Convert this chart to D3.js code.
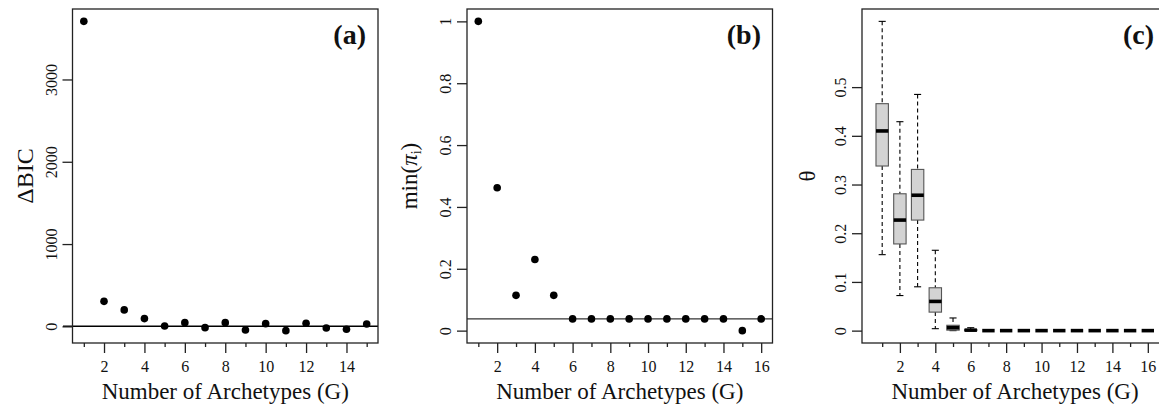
<!DOCTYPE html>
<html><head><meta charset="utf-8">
<script src="https://cdn.jsdelivr.net/npm/d3@7"></script>
<style>body{margin:0;background:#fff}svg{display:block}svg text{font-family:'Liberation Serif','Tinos','Times New Roman','DejaVu Serif',serif !important;fill:#111}</style>
</head><body>
<svg id="c" width="1159" height="411"></svg>
<script>
// ---- data ----
const gA = [1,2,3,4,5,6,7,8,9,10,11,12,13,14,15];
const deltaBIC = [3706,304,200,94,4,45,-16,45,-45,33,-52,37,-20,-36,28];
const gB = [1,2,3,4,5,6,7,8,9,10,11,12,13,14,15,16];
const minPi = [1,0.462,0.114,0.230,0.114,0.038,0.038,0.038,0.038,0.038,0.038,0.038,0.038,0.038,0,0.038];
const minPiRef = 0.038;
const gC = [1,2,3,4,5,6,7,8,9,10,11,12,13,14,15,16];
const thetaLo  = [0.156,0.072,0.090,0.004,0.000,0,0,0,0,0,0,0,0,0,0,0];
const thetaQ1  = [0.338,0.178,0.227,0.038,0.001,0,0,0,0,0,0,0,0,0,0,0];
const thetaMed = [0.410,0.227,0.278,0.060,0.006,0.001,0,0,0,0,0,0,0,0,0,0];
const thetaQ3  = [0.466,0.281,0.331,0.088,0.011,0.002,0,0,0,0,0,0,0,0,0,0];
const thetaHi  = [0.635,0.429,0.485,0.165,0.026,0.006,0,0,0,0,0,0,0,0,0,0];
const yTicksA = [0,1000,2000,3000];
const yTicksB = [0,0.2,0.4,0.6,0.8,1];
const yTicksC = [0,0.1,0.2,0.3,0.4,0.5];
const xLabelsA = [2,4,6,8,10,12,14];
const xLabels16 = [2,4,6,8,10,12,14,16];

const FONT = "'Liberation Serif','Tinos','Times New Roman','DejaVu Serif',serif";
const svg = d3.select("#c");
const pad = (lo,hi)=>{const s=hi-lo;return [lo-0.04*s,hi+0.04*s];};
const TOP=9, BOT=343;

function frame(g,x0,x1){
  g.append("rect").attr("x",x0).attr("y",TOP).attr("width",x1-x0).attr("height",BOT-TOP)
   .attr("fill","none").attr("stroke","#222").attr("stroke-width",1.3);
}
function xAxis(g,x,all,labels){
  const minor = all.filter(v=>!labels.includes(v));
  const gm = g.append("g").attr("transform",`translate(0,${BOT})`)
    .call(d3.axisBottom(x).tickValues(minor).tickSize(4).tickFormat(""));
  gm.select(".domain").remove();
  const gM = g.append("g").attr("transform",`translate(0,${BOT})`)
    .call(d3.axisBottom(x).tickValues(labels).tickSize(10).tickPadding(8).tickFormat(d3.format("d")));
  gM.select(".domain").remove();
  gm.attr("font-family",FONT); gM.attr("font-family",FONT);
  g.selectAll(".tick line").attr("stroke","#222").attr("stroke-width",1.3);
  gM.selectAll("text").attr("font-size",16).attr("fill","#111");
}
function yAxis(g,x0,y,ticks,fmt){
  const ga = g.append("g").attr("transform",`translate(${x0},0)`)
    .call(d3.axisLeft(y).tickValues(ticks).tickSize(10).tickFormat(fmt));
  ga.select(".domain").remove();
  ga.attr("font-family",FONT);
  ga.selectAll(".tick line").attr("stroke","#222").attr("stroke-width",1.3);
  ga.selectAll("text").attr("font-size",16).attr("fill","#111")
    .attr("transform","rotate(-90)").attr("x",0).attr("y",-16).attr("dy",0).attr("text-anchor","middle");
}
function titles(g,x0,x1,ylab,ylabX,panel){
  g.append("text").attr("x",(x0+x1)/2).attr("y",399).attr("text-anchor","middle")
   .attr("font-size",23).text("Number of Archetypes (G)");
  ylab(g.append("g").attr("transform",`translate(${ylabX},${(TOP+BOT)/2}) rotate(-90)`));
  g.append("text").attr("x",panel.x).attr("y",44).attr("text-anchor","end")
   .attr("font-size",28).attr("font-weight","bold").text(panel.t);
}
const fmtNum = d=>d3.format("")(+d.toFixed(2));

// ---- panel (a) ----
{
  const L=72.5,R=378, g=svg.append("g");
  const x=d3.scaleLinear().domain(pad(1,15)).range([L,R]);
  const y=d3.scaleLinear().domain(pad(d3.min(deltaBIC),d3.max(deltaBIC))).range([BOT,TOP]);
  g.append("line").attr("x1",63).attr("x2",R).attr("y1",y(0)).attr("y2",y(0)).attr("stroke","#000").attr("stroke-width",1.5);
  frame(g,L,R);
  xAxis(g,x,gA,xLabelsA);
  yAxis(g,L,y,yTicksA,d3.format("d"));
  g.selectAll("circle.p").data(gA).join("circle").attr("cx",d=>x(d)).attr("cy",(d,i)=>y(deltaBIC[i])).attr("r",3.8).attr("fill","#000");
  titles(g,L,R,t=>t.append("text").attr("text-anchor","middle").attr("y",0).attr("font-size",24).text("ΔBIC"),33,{x:366,t:"(a)"});
}
// ---- panel (b) ----
{
  const L=467,R=772.5, g=svg.append("g");
  const x=d3.scaleLinear().domain(pad(1,16)).range([L,R]);
  const y=d3.scaleLinear().domain(pad(0,1)).range([BOT,TOP]);
  g.append("line").attr("x1",L).attr("x2",R).attr("y1",y(minPiRef)).attr("y2",y(minPiRef)).attr("stroke","#333").attr("stroke-width",1.2);
  frame(g,L,R);
  xAxis(g,x,gB,xLabels16);
  yAxis(g,L,y,yTicksB,fmtNum);
  g.selectAll("circle.p").data(gB).join("circle").attr("cx",d=>x(d)).attr("cy",(d,i)=>y(minPi[i])).attr("r",3.8).attr("fill","#000");
  titles(g,L,R,t=>{const tx=t.append("text").attr("text-anchor","middle").attr("font-size",23);
      tx.append("tspan").text("min(");
      tx.append("tspan").attr("font-style","italic").text("π");
      tx.append("tspan").attr("font-size",14).attr("dy",4).text("i");
      tx.append("tspan").attr("dy",-4).text(")");},417,{x:761,t:"(b)"});
}
// ---- panel (c) ----
{
  const L=862,R=1168, g=svg.append("g");
  const x=d3.scaleLinear().domain(pad(0.5,16.5)).range([L,R]);
  const y=d3.scaleLinear().domain(pad(d3.min(thetaLo),d3.max(thetaHi))).range([BOT,TOP]);
  const bw = (x(1)-x(0))*0.7, sw=(x(1)-x(0))*0.4;
  const bx = g.selectAll("g.box").data(gC).join("g");
  bx.append("line").attr("x1",d=>x(d)).attr("x2",d=>x(d)).attr("y1",(d,i)=>y(thetaHi[i])).attr("y2",(d,i)=>y(thetaQ3[i]))
    .attr("stroke","#000").attr("stroke-width",1.1).attr("stroke-dasharray","4,3");
  bx.append("line").attr("x1",d=>x(d)).attr("x2",d=>x(d)).attr("y1",(d,i)=>y(thetaQ1[i])).attr("y2",(d,i)=>y(thetaLo[i]))
    .attr("stroke","#000").attr("stroke-width",1.1).attr("stroke-dasharray","4,3");
  bx.append("line").attr("x1",d=>x(d)-sw/2).attr("x2",d=>x(d)+sw/2).attr("y1",(d,i)=>y(thetaHi[i])).attr("y2",(d,i)=>y(thetaHi[i]))
    .attr("stroke","#000").attr("stroke-width",1.1);
  bx.append("line").attr("x1",d=>x(d)-sw/2).attr("x2",d=>x(d)+sw/2).attr("y1",(d,i)=>y(thetaLo[i])).attr("y2",(d,i)=>y(thetaLo[i]))
    .attr("stroke","#000").attr("stroke-width",1.1);
  bx.append("rect").attr("x",d=>x(d)-bw/2).attr("width",bw)
    .attr("y",(d,i)=>y(thetaQ3[i])).attr("height",(d,i)=>y(thetaQ1[i])-y(thetaQ3[i]))
    .attr("fill","#d3d3d3").attr("stroke","#555").attr("stroke-width",1.1);
  bx.append("line").attr("x1",d=>x(d)-bw/2).attr("x2",d=>x(d)+bw/2).attr("y1",(d,i)=>y(thetaMed[i])).attr("y2",(d,i)=>y(thetaMed[i]))
    .attr("stroke","#000").attr("stroke-width",3.6);
  frame(g,L,R);
  xAxis(g,x,gC,xLabels16);
  yAxis(g,L,y,yTicksC,fmtNum);
  titles(g,L,R,t=>t.append("text").attr("text-anchor","middle").attr("font-size",23).text("θ"),815,{x:1154,t:"(c)"});
}
</script>
</body></html>
